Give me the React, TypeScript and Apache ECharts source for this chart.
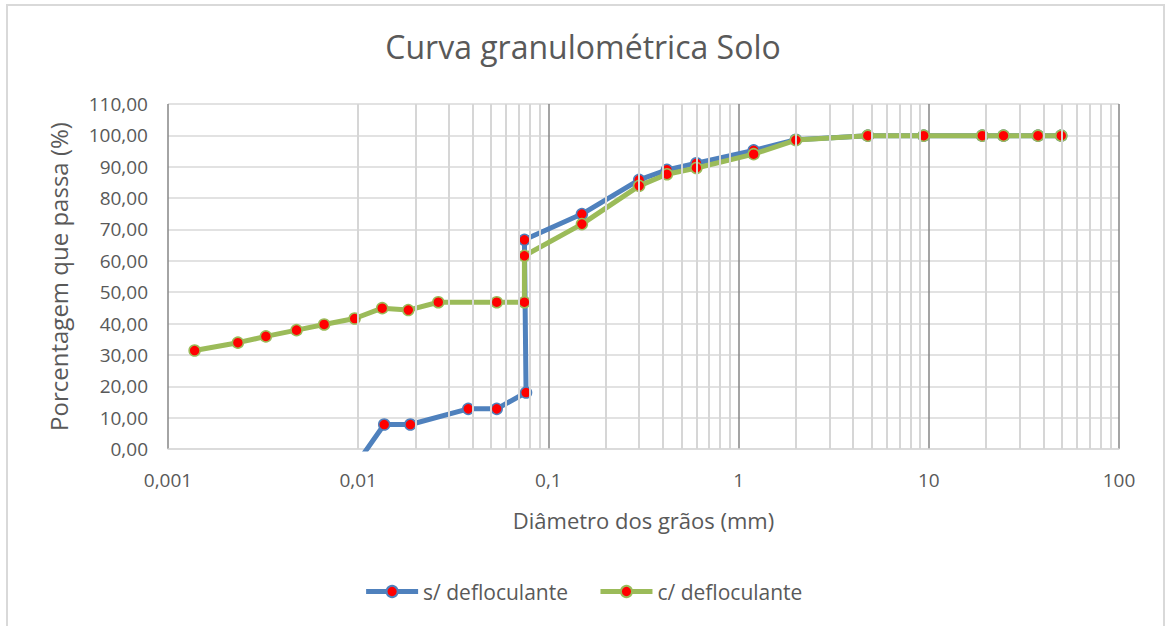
import React, { useEffect, useRef } from "react";
import * as echarts from "echarts";

const titleText = "Curva granulométrica Solo";
const xAxisTitle = "Diâmetro dos grãos (mm)";
const yAxisTitle = "Porcentagem que passa (%)";
const seriesNames = ["s/ defloculante", "c/ defloculante"];

const semDefX = [0.00958, 0.0137, 0.0188, 0.0379, 0.0535, 0.0763, 0.0748, 0.15, 0.3, 0.42, 0.6, 1.2, 2.0, 4.78, 9.4, 19.1, 24.7, 37.5, 49.7];
const semDefY = [-5.6, 7.8, 7.8, 12.8, 12.8, 18.0, 66.7, 74.9, 85.8, 89.0, 91.1, 95.2, 98.6, 99.9, 99.9, 99.9, 99.9, 99.9, 99.9];

const comDefX = [0.00138, 0.00233, 0.00327, 0.00474, 0.00662, 0.00958, 0.01337, 0.01834, 0.02637, 0.0535, 0.0748, 0.0748, 0.15, 0.3, 0.42, 0.6, 1.2, 2.0, 4.78, 9.4, 19.1, 24.7, 37.5, 49.7];
const comDefY = [31.4, 33.9, 35.9, 37.9, 39.7, 41.6, 44.9, 44.3, 46.8, 46.8, 46.8, 61.6, 71.7, 83.9, 87.6, 89.6, 94.0, 98.5, 99.9, 99.9, 99.9, 99.9, 99.9, 99.9];

const decades = [0.001, 0.01, 0.1, 1, 10];
const minorMultipliers = [2, 3, 4, 5, 6, 7, 8, 9];

const FONT = "'Open Sans', sans-serif";
const TEXT = "#595959";

export default function App() {
  const ref = useRef<HTMLDivElement>(null);
  useEffect(() => {
    if (!ref.current) return;
    const chart = echarts.init(ref.current, null, { renderer: "svg" });
    const minorLines: any[] = [];
    decades.forEach((d) =>
      minorMultipliers.forEach((m) => minorLines.push({ xAxis: Number((d * m).toPrecision(6)) }))
    );
    const mk = (xs: number[], ys: number[]) => xs.map((x, i) => [x, ys[i]]);
    chart.setOption({
      animation: false,
      backgroundColor: "#ffffff",
      textStyle: { fontFamily: FONT, color: TEXT },
      title: {
        text: titleText,
        left: "center",
        top: 25,
        textStyle: { fontFamily: FONT, fontSize: 32, fontWeight: "normal", color: TEXT },
      },
      graphic: [
        {
          type: "rect",
          silent: true,
          shape: { x: 7, y: 5, width: 1157, height: 660 },
          style: { fill: "none", stroke: "#D9D9D9", lineWidth: 2 },
        },
      ],
      legend: {
        bottom: 19,
        left: "center",
        itemWidth: 52,
        itemHeight: 14,
        itemGap: 30,
        lineStyle: { width: 5 },
        textStyle: { fontFamily: FONT, fontSize: 21, color: TEXT },
        data: seriesNames,
      },
      grid: { left: 168, right: 47, top: 104, bottom: 177, containLabel: false },
      xAxis: {
        type: "log",
        logBase: 10,
        min: 0.001,
        max: 100,
        name: xAxisTitle,
        nameLocation: "middle",
        nameGap: 60,
        nameTextStyle: { fontFamily: FONT, fontSize: 22, color: TEXT },
        axisLine: { show: true, lineStyle: { color: "#D9D9D9", width: 1.5 } },
        axisTick: { show: false },
        axisLabel: {
          margin: 21,
          fontSize: 19,
          color: TEXT,
          fontFamily: FONT,
          formatter: (v: number) => String(Number(v.toPrecision(6))).replace(".", ","),
        },
        splitLine: { show: true, lineStyle: { color: "#868686", width: 1.5 } },
      },
      yAxis: {
        type: "value",
        min: 0,
        max: 110,
        interval: 10,
        name: yAxisTitle,
        nameLocation: "middle",
        nameGap: 98,
        nameTextStyle: { fontFamily: FONT, fontSize: 24, color: TEXT },
        axisLine: { show: false },
        axisTick: { show: false },
        axisLabel: {
          margin: 20,
          fontSize: 19,
          color: TEXT,
          fontFamily: FONT,
          formatter: (v: number) => v.toFixed(2).replace(".", ","),
        },
        splitLine: { show: true, lineStyle: { color: "#D9D9D9", width: 1.5 } },
      },
      series: [
        {
          name: "minor",
          type: "line",
          data: [],
          silent: true,
          z: 1,
          markLine: {
            silent: true,
            symbol: ["none", "none"],
            label: { show: false },
            lineStyle: { color: "#D6D6D6", width: 2, type: "solid", opacity: 1 },
            emphasis: { disabled: true },
            data: minorLines,
          },
        },
        {
          name: seriesNames[0],
          type: "line",
          z: 3,
          data: mk(semDefX, semDefY),
          symbol: "circle",
          symbolSize: 11,
          lineStyle: { color: "#4F81BD", width: 5 },
          itemStyle: { color: "#FF0000", borderColor: "#4F81BD", borderWidth: 1.5 },
          emphasis: { disabled: true },
        },
        {
          name: seriesNames[1],
          type: "line",
          z: 4,
          data: mk(comDefX, comDefY),
          symbol: "circle",
          symbolSize: 11,
          lineStyle: { color: "#9BBB59", width: 5 },
          itemStyle: { color: "#FF0000", borderColor: "#9BBB59", borderWidth: 1.5 },
          emphasis: { disabled: true },
        },
      ],
    });
    return () => chart.dispose();
  }, []);
  return (
    <div
      ref={ref}
      style={{ position: "fixed", left: 0, top: 0, width: 1166, height: 626, background: "#fff" }}
    />
  );
}
